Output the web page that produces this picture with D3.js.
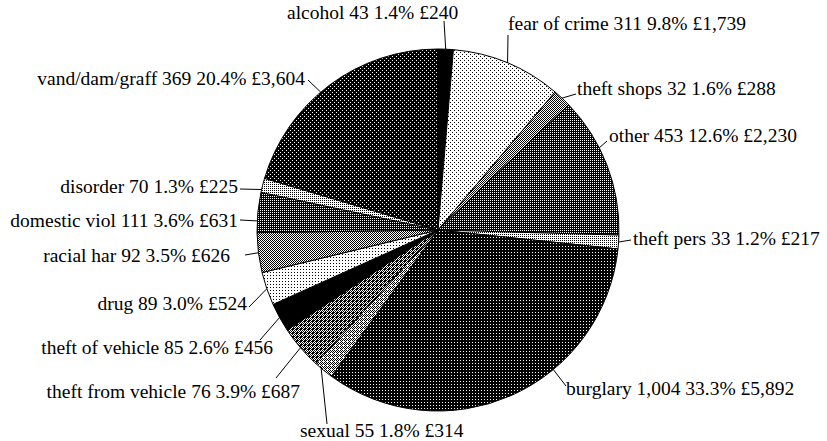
<!DOCTYPE html>
<html lang="en">
<head>
    <meta charset="UTF-8">
    <title>Crime pie</title>
    <script src="https://d3js.org/d3.v7.min.js"></script>
    <style>
        body { margin: 0; background: #fff; }
        .label {
            font-family: "Liberation Serif", "Times New Roman", serif;
            font-size: 19.5px;
            fill: #000;
        }
        .leader {
            fill: none;
            stroke: #000;
            stroke-width: 1px;
        }
    </style>
</head>
<body>
    <svg id="pie" width="827" height="441"></svg>

    <script>
        // Data, clockwise from 12 o'clock
        var categories = ["alcohol", "fear of crime", "theft shops", "other", "theft pers", "burglary", "sexual",
            "theft from vehicle", "theft of vehicle", "drug", "racial har", "domestic viol", "disorder", "vand/dam/graff"];
        var counts = [43, 311, 32, 453, 33, 1004, 55, 76, 85, 89, 92, 111, 70, 369];
        var shares = ["1.4%", "9.8%", "1.6%", "12.6%", "1.2%", "33.3%", "1.8%", "3.9%", "2.6%", "3.0%", "3.5%", "3.6%", "1.3%", "20.4%"];
        var costs = [240, 1739, 288, 2230, 217, 5892, 314, 687, 456, 524, 626, 631, 225, 3604];

        // Fill pattern for each slice
        var fills = ["solid", "fear", "checker", "grid", "light", "burg", "sexual",
            "tfv", "solid", "drug", "checker", "grid", "light", "vand"];

        // Label layout: text anchor point, where the leader leaves the label, position along the slice edge
        var labelLayout = [
            {x: 287, y: 19, anchor: "start", lx: 444, ly: 21, t: 0.5},
            {x: 508, y: 30, anchor: "start", lx: 508, ly: 35, t: 0.5},
            {x: 577, y: 95, anchor: "start", lx: 576, ly: 94, t: 0.5},
            {x: 609, y: 142, anchor: "start", lx: 607, ly: 141, t: 0.37},
            {x: 633, y: 245, anchor: "start", lx: 631, ly: 240, t: 0.5},
            {x: 566, y: 395, anchor: "start", lx: 566, ly: 386, t: 0.37},
            {x: 300, y: 437, anchor: "start", lx: 327, ly: 424, t: 0.65},
            {x: 300, y: 398, anchor: "end", lx: 276, ly: 378, t: 0.5},
            {x: 273, y: 354, anchor: "end", lx: 260, ly: 340, t: 0.5},
            {x: 247, y: 310, anchor: "end", lx: 249, ly: 307, t: 0.5},
            {x: 230, y: 262, anchor: "end", lx: 245, ly: 255, t: 0.5},
            {x: 238, y: 227, anchor: "end", lx: 240, ly: 220, t: 0.29},
            {x: 238, y: 193, anchor: "end", lx: 240, ly: 189, t: 0.2},
            {x: 305, y: 85, anchor: "end", lx: 308, ly: 80, t: 0.45}
        ];

        var cx = 438, cy = 230, radius = 181;

        var svg = d3.select("#pie");
        var defs = svg.append("defs");

        // small bitmap-like tiles
        function makePattern(id, size, bg, fg, cells) {
            var p = defs.append("pattern")
                .attr("id", id)
                .attr("patternUnits", "userSpaceOnUse")
                .attr("width", size)
                .attr("height", size);
            p.append("rect").attr("width", size).attr("height", size).attr("fill", bg);
            cells.forEach(function(c) {
                p.append("rect")
                    .attr("x", c[0]).attr("y", c[1])
                    .attr("width", 1).attr("height", 1)
                    .attr("fill", fg)
                    .attr("shape-rendering", "crispEdges");
            });
        }

        makePattern("fear", 4, "#fff", "#000", [[0, 0], [2, 2]]);
        makePattern("checker", 2, "#fff", "#000", [[0, 0], [1, 1]]);
        makePattern("grid", 2, "#000", "#fff", [[0, 0]]);
        makePattern("light", 2, "#fff", "#000", [[0, 0]]);
        makePattern("burg", 3, "#000", "#fff", [[1, 1]]);
        makePattern("sexual", 4, "#fff", "#000", [[0, 0], [2, 0], [1, 1], [3, 1], [0, 2], [2, 2], [3, 3]]);
        makePattern("tfv", 4, "#000", "#fff", [[1, 0], [3, 0], [0, 1], [2, 1], [1, 2], [0, 3]]);
        makePattern("drug", 3, "#fff", "#000", [[0, 0]]);
        makePattern("vand", 4, "#000", "#fff", [[0, 0], [2, 2]]);

        var data = categories.map(function(c, i) {
            return {name: c, count: counts[i], share: shares[i], cost: costs[i], fill: fills[i], layout: labelLayout[i]};
        });

        var pie = d3.pie()
            .sort(null)
            .value(function(d) { return d.cost; });

        var arc = d3.arc()
            .innerRadius(0)
            .outerRadius(radius);

        var g = svg.append("g")
            .attr("transform", "translate(" + cx + "," + cy + ")");

        var arcs = pie(data);

        g.selectAll("path.slice")
            .data(arcs)
            .enter()
            .append("path")
            .attr("class", "slice")
            .attr("d", arc)
            .attr("fill", function(d) { return d.data.fill === "solid" ? "#000" : "url(#" + d.data.fill + ")"; })
            .attr("stroke", "#000")
            .attr("stroke-width", 1);

        // leader lines from the slice edge to the label
        svg.selectAll("line.leader")
            .data(arcs)
            .enter()
            .append("line")
            .attr("class", "leader")
            .attr("x1", function(d) {
                var a = d.startAngle + (d.endAngle - d.startAngle) * d.data.layout.t;
                return cx + radius * Math.sin(a);
            })
            .attr("y1", function(d) {
                var a = d.startAngle + (d.endAngle - d.startAngle) * d.data.layout.t;
                return cy - radius * Math.cos(a);
            })
            .attr("x2", function(d) { return d.data.layout.lx; })
            .attr("y2", function(d) { return d.data.layout.ly; });

        var fmt = d3.format(",");

        svg.selectAll("text.label")
            .data(arcs)
            .enter()
            .append("text")
            .attr("class", "label")
            .attr("x", function(d) { return d.data.layout.x; })
            .attr("y", function(d) { return d.data.layout.y; })
            .attr("text-anchor", function(d) { return d.data.layout.anchor; })
            .text(function(d) {
                return d.data.name + " " + fmt(d.data.count) + " " + d.data.share + " \u00a3" + fmt(d.data.cost);
            });
    </script>
</body>
</html>
